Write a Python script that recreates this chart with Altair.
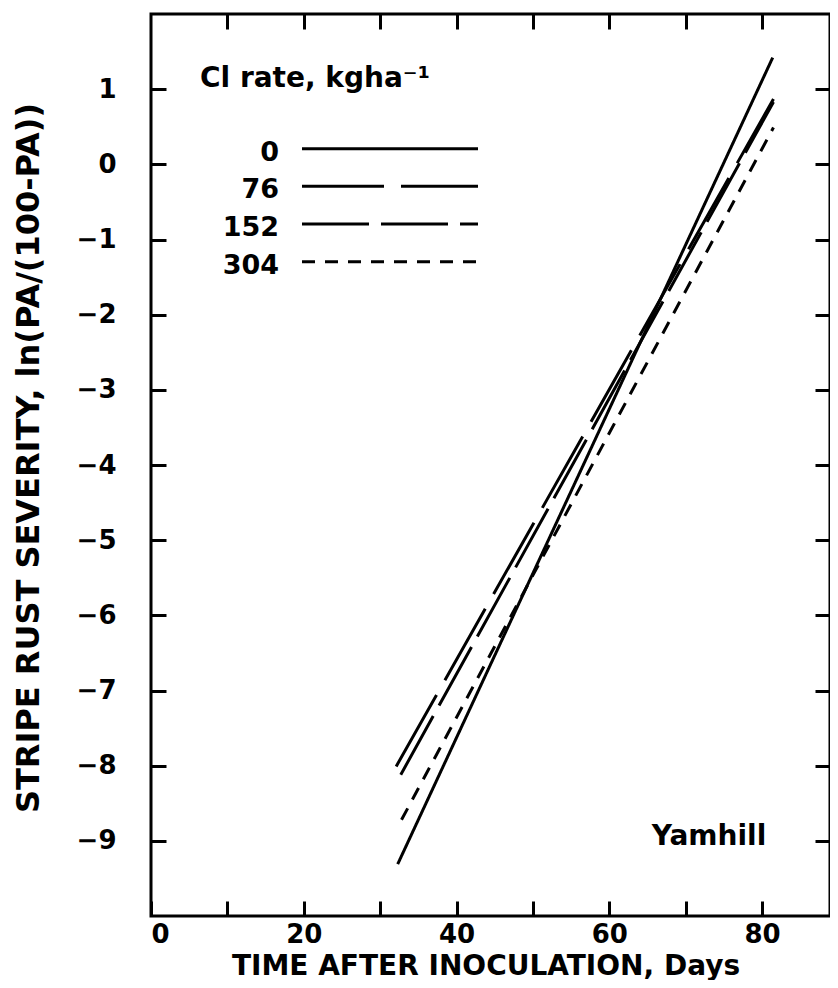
import altair as alt
import pandas as pd

# Cl rate (kg/ha) series: fitted linear lines, endpoints
rates = ["0", "76", "152", "304"]
day_start = [32.3, 32.1, 32.7, 32.8]
day_end = [81.4, 81.5, 81.5, 81.5]
sev_start = [-9.31, -8.01, -8.12, -8.72]
sev_end = [1.42, 0.87, 0.83, 0.49]

x_ticks = [0, 10, 20, 30, 40, 50, 60, 70, 80]
y_ticks = [-9, -8, -7, -6, -5, -4, -3, -2, -1, 0, 1]
legend_title = ["Cl rate, kgha⁻¹"]
panel_label = ["Yamhill"]

rows = []
for r, d0, d1, s0, s1 in zip(rates, day_start, day_end, sev_start, sev_end):
    rows.append({"rate": r, "day": d0, "sev": s0, "ord": 0})
    rows.append({"rate": r, "day": d1, "sev": s1, "ord": 1})
df = pd.DataFrame(rows)
leg_df = pd.DataFrame({"rate": rates})

FONT = "DejaVu Sans"
dash_scale = alt.Scale(domain=rates, range=[[1, 0], [82, 17], [67, 12], [13, 10]])

x_scale = alt.Scale(domain=[0, 88.9], nice=False, zero=False)
y_scale = alt.Scale(domain=[-10, 2], nice=False, zero=False)
leg_y = alt.Y("rate:N",
              scale=alt.Scale(type="point", domain=rates, range=[134.7, 247.7],
                              padding=0),
              axis=None)

tick_style = dict(tickSize=15, offset=-15, domain=False, grid=False,
                  tickColor="black", tickWidth=3,
                  labelFont=FONT, labelFontSize=26, labelFontWeight="bold",
                  labelColor="black", titleFont=FONT,
                  titleFontWeight="bold", titleColor="black")

lines = alt.Chart(df).mark_line(color="black", strokeWidth=3, strokeCap="butt").encode(
    x=alt.X("day:Q", scale=x_scale,
            axis=alt.Axis(orient="bottom", values=x_ticks,
                          labelExpr="datum.value % 20 == 0 ? datum.label : ''",
                          labelPadding=5.5, title="TIME AFTER INOCULATION, Days",
                          titleFontSize=28, titleBaseline="alphabetic",
                          titlePadding=27, titleX=334.5,
                          **tick_style)),
    y=alt.Y("sev:Q", scale=y_scale,
            axis=alt.Axis(orient="left", values=y_ticks, labelPadding=35,
                          title="STRIPE RUST SEVERITY, ln(PA/(100-PA))",
                          titleFontSize=32, titlePadding=31, titleY=443.5,
                          **tick_style)),
    strokeDash=alt.StrokeDash("rate:N", scale=dash_scale, legend=None),
    order="ord:Q",
)

frame_ticks = alt.Chart(df).mark_line(strokeOpacity=0).encode(
    x=alt.X("day:Q", scale=x_scale,
            axis=alt.Axis(orient="top", values=x_ticks[1:], labels=False,
                          title=None, **tick_style)),
    y=alt.Y("sev:Q", scale=y_scale,
            axis=alt.Axis(orient="right", values=y_ticks, labels=False,
                          title=None, **tick_style)),
    detail="rate:N",
)

legend_lines = alt.Chart(leg_df).mark_rule(color="black", strokeWidth=3,
                                           strokeCap="butt").encode(
    x=alt.value(151), x2=alt.value(327), y=leg_y,
    strokeDash=alt.StrokeDash("rate:N", scale=dash_scale, legend=None),
)

legend_labels = alt.Chart(leg_df).mark_text(
    font=FONT, fontSize=27, fontWeight="bold", color="black",
    align="right", baseline="middle", dy=4).encode(
    x=alt.value(128), y=leg_y, text="rate:N")

legend_head = alt.Chart(pd.DataFrame({"t": legend_title})).mark_text(
    font=FONT, fontSize=28, fontWeight="bold", color="black",
    align="left", baseline="alphabetic").encode(
    x=alt.value(49), y=alt.value(73), text="t:N")

label = alt.Chart(pd.DataFrame({"name": panel_label})).mark_text(
    font=FONT, fontSize=28, fontWeight="bold", color="black",
    align="center", baseline="alphabetic").encode(
    x=alt.value(558), y=alt.value(831), text="name:N")

chart = alt.layer(lines, frame_ticks, legend_lines, legend_labels, legend_head,
                  label).resolve_scale(y="independent").resolve_axis(
    x="independent", y="independent"
).properties(
    width=679, height=902, background="white",
    autosize=alt.AutoSizeParams(type="none"),
    padding={"left": 143, "top": 6, "right": 0, "bottom": 64},
).configure_view(stroke="black", strokeWidth=3)

chart.save("out.html", embed_options={"renderer": "svg", "actions": False})
